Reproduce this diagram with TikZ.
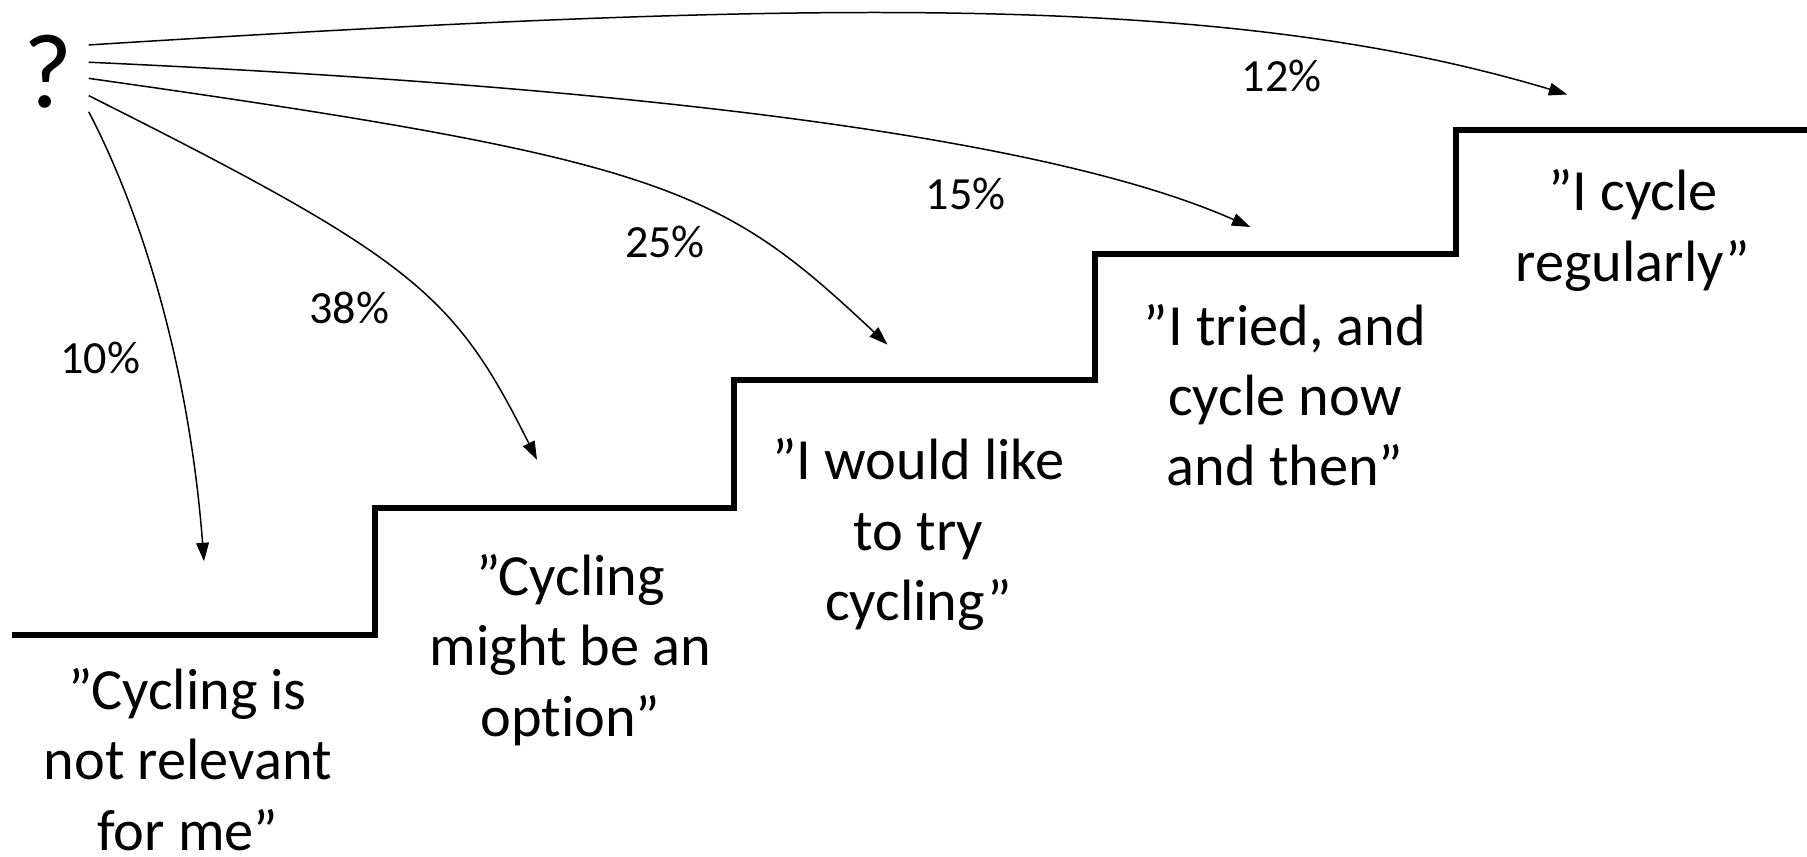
\documentclass[tikz,border=0pt]{standalone}
\usepackage{fontspec}
\setmainfont{Carlito}[Ligatures={TeX,NoCommon}]
\usetikzlibrary{arrows.meta}
\begin{document}
\begin{tikzpicture}[x=0.5pt,y=-0.5pt,
  stair/.style={line width=2.6pt, line cap=butt, line join=miter},
  conn/.style={line width=0.65pt, -{Triangle[length=8pt,width=5.5pt]}},
  quotetext/.style={font=\fontsize{25.3pt}{30.5pt}\selectfont, align=center, inner sep=0pt},
  pct/.style={font=\fontsize{20pt}{24pt}\selectfont, inner sep=0pt},
  qmark/.style={font=\fontsize{46pt}{54pt}\selectfont, inner sep=0pt}
]
\useasboundingbox (0,0) rectangle (1568,743);

% staircase
\draw[stair] (10,551) -- (325,551) -- (325,441) -- (637,441) -- (637,330)
  -- (950,330) -- (950,220) -- (1263,220) -- (1263,113) -- (1570,113);

% question mark
\node[qmark] (q) at (42,62) {?};

% start and end points of the connectors
\coordinate (s1) at (77,97);
\coordinate (s2) at (77,83);
\coordinate (s3) at (77,68);
\coordinate (s4) at (77,54);
\coordinate (s5) at (77,39);
\coordinate (e1) at (177,487);
\coordinate (e2) at (466,399);
\coordinate (e3) at (770,299);
\coordinate (e4) at (1085,197);
\coordinate (e5) at (1360,82);

\draw[conn] (s1) .. controls (128,195) and (165,330) .. (e1);
\draw[conn] (s2) .. controls (360,225) and (394,255) .. (e2);
\draw[conn] (s3) .. controls (580,139) and (625,163) .. (e3);
\draw[conn] (s4) .. controls (520,74) and (900,115) .. (e4);
\draw[conn] (s5) .. controls (700,0) and (1060,-8) .. (e5);

% percentages
\node[pct] (p10) at (87,311) {10\%};
\node[pct] (p38) at (303,267) {38\%};
\node[pct] (p25) at (577,210) {25\%};
\node[pct] (p15) at (838,168) {15\%};
\node[pct] (p12) at (1112,66) {12\%};

% stage texts
\node[quotetext] (t1) at (163,659) {”Cycling is\\not relevant\\for me”};
\node[quotetext] (t2) at (495,564) {”Cycling\\might be an\\option”};
\node[quotetext] (t3) at (797,464) {”I would like\\to try\\cycling”};
\node[quotetext] (t4) at (1115,343) {”I tried, and\\cycle now\\and then”};
\node[quotetext] (t5) at (1417,200) {”I cycle\\regularly”};
\end{tikzpicture}
\end{document}
